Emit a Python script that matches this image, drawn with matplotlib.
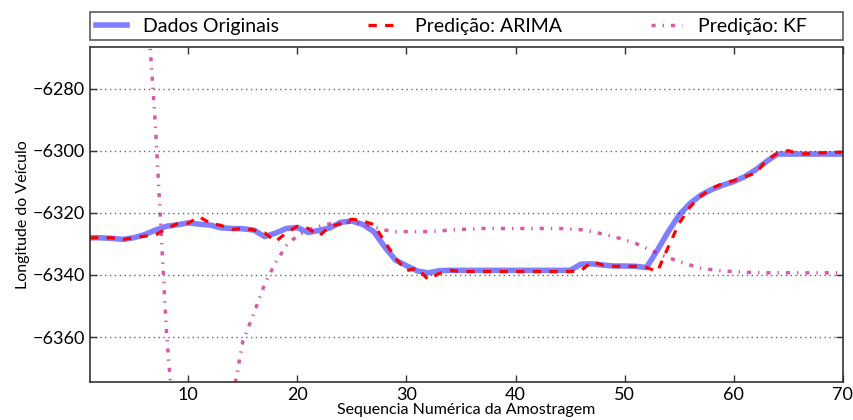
import matplotlib
matplotlib.use('Agg')
import matplotlib.pyplot as plt

plt.rcParams['font.family'] = ['Lato', 'DejaVu Sans']

# amostras 1..70
seq = list(range(1, 71))

original = [-6328.0, -6328.0, -6328.2, -6328.5, -6328.0, -6327.0, -6325.5, -6324.3, -6323.8, -6323.2,
            -6323.6, -6323.9, -6324.8, -6325.0, -6325.1, -6325.5, -6327.6, -6326.5, -6325.0, -6324.7,
            -6326.3, -6325.6, -6324.8, -6323.0, -6322.6, -6323.7, -6326.0, -6330.9, -6335.2, -6337.0,
            -6338.7, -6339.3, -6338.6, -6338.5, -6338.5, -6338.5, -6338.5, -6338.5, -6338.5, -6338.5,
            -6338.5, -6338.5, -6338.5, -6338.5, -6338.5, -6336.5, -6336.4, -6336.8, -6337.1, -6337.1,
            -6337.2, -6337.6, -6332.0, -6326.0, -6320.6, -6316.9, -6314.2, -6312.4, -6311.0, -6309.9,
            -6308.3, -6306.1, -6303.4, -6301.0, -6301.0, -6301.0, -6301.0, -6301.0, -6301.0, -6301.0]

arima = [-6328.0, -6328.0, -6328.0, -6328.6, -6328.0, -6327.5, -6327.1, -6325.0, -6323.5, -6323.3,
         -6321.2, -6323.3, -6324.0, -6325.3, -6325.0, -6325.5, -6326.4, -6329.2, -6326.4, -6324.3,
         -6325.0, -6327.4, -6324.3, -6323.5, -6322.0, -6322.6, -6323.7, -6329.2, -6334.6, -6338.6,
         -6337.8, -6341.5, -6339.5, -6338.5, -6338.9, -6338.9, -6338.9, -6338.9, -6338.9, -6338.9,
         -6338.9, -6338.9, -6338.9, -6338.9, -6338.9, -6338.6, -6335.7, -6336.8, -6337.2, -6337.2,
         -6337.2, -6337.6, -6338.9, -6330.9, -6323.3, -6318.0, -6314.5, -6312.0, -6310.5, -6309.6,
         -6308.3, -6307.2, -6303.0, -6300.8, -6299.9, -6301.0, -6300.9, -6300.6, -6300.5, -6300.4]

# filtro de Kalman (a partir da amostra 6)
seq_kf = list(range(6, 71))
kf = [-6240.0, -6292.0, -6358.0, -6403.0, -6425.0, -6430.0, -6420.0, -6400.0, -6381.0, -6361.5,
      -6352.5, -6343.0, -6336.0, -6330.5, -6327.3, -6325.5, -6324.3, -6323.5, -6323.0, -6323.0,
      -6323.5, -6324.5, -6325.5, -6326.0, -6326.0, -6326.0, -6326.0, -6325.8, -6325.5, -6325.3,
      -6325.2, -6325.0, -6325.0, -6325.0, -6325.0, -6325.0, -6325.0, -6325.0, -6325.0, -6325.2,
      -6325.4, -6326.0, -6326.8, -6327.6, -6328.7, -6329.8, -6331.4, -6333.0, -6334.4, -6335.7,
      -6336.8, -6337.8, -6338.3, -6338.7, -6338.9, -6339.1, -6339.2, -6339.3, -6339.3, -6339.3,
      -6339.3, -6339.3, -6339.3, -6339.3, -6339.3]

fig = plt.figure(figsize=(8.54, 4.2), dpi=100)
ax = fig.add_axes([0.1054, 0.0905, 0.8816, 0.7975])

ax.plot(seq, original, color='blue', alpha=0.5, linewidth=4, label='Dados Originais')
ax.plot(seq, arima, color='red', linestyle=(0, (2.6, 2.6)), linewidth=2.3,
        label='Predição: ARIMA')
# espaços no fim deixam as colunas da legenda com largura parecida
ax.plot(seq_kf, kf, color='mediumvioletred', alpha=0.7, linestyle=(0, (1.2, 2.0, 0.4, 2.0)),
        linewidth=2.5, label='Predição: KF      ')

ax.set_xlim(1, 70)
ax.set_ylim(-6374.5, -6266.5)
ax.set_yticks([-6280, -6300, -6320, -6340, -6360])
ax.set_xticks([10, 20, 30, 40, 50, 60, 70])
ax.yaxis.grid(True, linestyle=(0, (1, 2.5)), color='0.4', linewidth=1)

ax.tick_params(direction='in', top=True, right=True, labelsize=13, length=5, width=1,
               colors='#333333', labelcolor='black')
for s in ax.spines.values():
    s.set_color('#333333')
    s.set_linewidth(1.2)

ax.set_xlabel('Sequencia Numérica da Amostragem', fontsize=11.5, labelpad=0)
ax.set_ylabel('Longitude do Veículo', fontsize=11.5, labelpad=2)

leg = ax.legend(bbox_to_anchor=(0., 1.02, 1., .09), loc='lower left', ncol=3,
                mode='expand', borderaxespad=0., fontsize=14, fancybox=False,
                handlelength=1.6, handletextpad=0.85, borderpad=0.3)
leg.get_frame().set_edgecolor('#333333')
leg.get_frame().set_linewidth(1.2)

fig.savefig('out.png', dpi=100)
